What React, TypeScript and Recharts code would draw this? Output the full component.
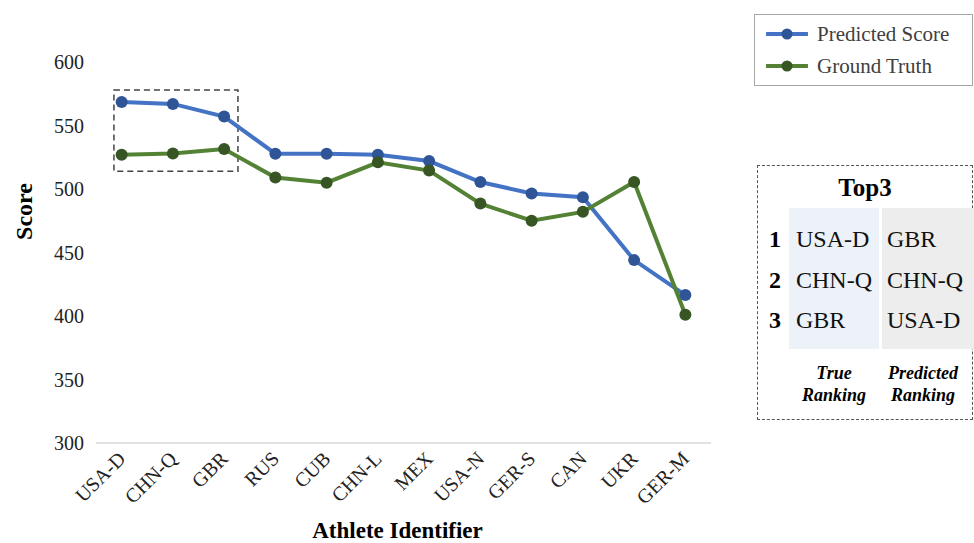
import React from "react";
import {
  LineChart,
  Line,
  XAxis,
  YAxis,
  ReferenceArea,
} from "recharts";

if (typeof document !== "undefined") document.body.style.margin = "0";

const ATHLETES = ["USA-D", "CHN-Q", "GBR", "RUS", "CUB", "CHN-L", "MEX", "USA-N", "GER-S", "CAN", "UKR", "GER-M"];
const PREDICTED = [568.5, 567, 557, 527.8, 527.8, 527, 522, 505.5, 496.5, 493.5, 444, 416.5];
const GROUND_TRUTH = [527, 528, 531.5, 509, 505, 521, 514.5, 488.5, 475, 482, 505.5, 401];
const Y_TICKS = [300, 350, 400, 450, 500, 550, 600];

// top-3 table shown to the right of the chart
const RANKS = [1, 2, 3];
const TRUE_TOP3 = ["USA-D", "CHN-Q", "GBR"];
const PRED_TOP3 = ["GBR", "CHN-Q", "USA-D"];

// dashed highlight box around the first three athletes (x in index units, y in score)
const HIGHLIGHT = { x1: -0.15, x2: 2.27, y1: 514, y2: 578 };

const FONT = '"Liberation Serif", "Times New Roman", serif';
const BLUE = "#4472C4";
const BLUE_DOT = "#2F5597";
const GREEN = "#548235";
const GREEN_DOT = "#375623";

const data = ATHLETES.map((name, i) => ({
  idx: i,
  name,
  predicted: PREDICTED[i],
  truth: GROUND_TRUTH[i],
}));

function XTick({ x, y, payload }: any) {
  return (
    <g transform={`translate(${x + 5},${y + 9})`}>
      <text
        x={0}
        y={0}
        textAnchor="end"
        transform="rotate(-45)"
        fontFamily={FONT}
        fontSize={20}
        fill="#222"
      >
        {ATHLETES[payload.value]}
      </text>
    </g>
  );
}

export default function App() {
  return (
    <div style={{ position: "relative", width: 974, height: 543, background: "#fff", fontFamily: FONT }}>
      <LineChart
        width={974}
        height={543}
        data={data}
        margin={{ top: 62, right: 263, left: 16, bottom: 0 }}
      >
        <XAxis
          type="number"
          dataKey="idx"
          domain={[-0.5, 11.5]}
          ticks={ATHLETES.map((_, i) => i)}
          tick={<XTick />}
          tickLine={false}
          axisLine={{ stroke: "#d9d9d9", strokeWidth: 1.5 }}
          height={100}
          interval={0}
          label={({ viewBox }: any) => (
            <text
              x={viewBox.x + viewBox.width / 2 - 6}
              y={viewBox.y + 95}
              textAnchor="middle"
              fontFamily={FONT}
              fontSize={23}
              fontWeight="bold"
              fill="#000"
            >
              Athlete Identifier
            </text>
          )}
        />
        <YAxis
          type="number"
          domain={[300, 600]}
          ticks={Y_TICKS}
          width={80}
          tickLine={false}
          axisLine={false}
          tickMargin={6}
          tick={{ fontFamily: FONT, fontSize: 20, fill: "#222" }}
          label={({ viewBox }: any) => {
            const cx = viewBox.x + 16;
            const cy = viewBox.y + viewBox.height / 2 - 41;
            return (
              <text
                x={cx}
                y={cy}
                textAnchor="middle"
                transform={`rotate(-90 ${cx} ${cy})`}
                fontFamily={FONT}
                fontSize={24}
                fontWeight="bold"
                fill="#000"
              >
                Score
              </text>
            );
          }}
        />
        <ReferenceArea
          x1={HIGHLIGHT.x1}
          x2={HIGHLIGHT.x2}
          y1={HIGHLIGHT.y1}
          y2={HIGHLIGHT.y2}
          fill="none"
          stroke="#444"
          strokeWidth={1.5}
          strokeDasharray="6 4"
          ifOverflow="visible"
        />
        <Line
          dataKey="predicted"
          stroke={BLUE}
          strokeWidth={4}
          dot={{ r: 6, fill: BLUE_DOT, stroke: "none" }}
          isAnimationActive={false}
        />
        <Line
          dataKey="truth"
          stroke={GREEN}
          strokeWidth={4}
          dot={{ r: 6, fill: GREEN_DOT, stroke: "none" }}
          isAnimationActive={false}
        />
      </LineChart>

      {/* legend */}
      <div
        style={{
          position: "absolute",
          left: 754,
          top: 14,
          width: 219,
          height: 72,
          border: "1px solid #a6a6a6",
          boxSizing: "border-box",
        }}
      >
        {[
          { label: "Predicted Score", line: BLUE, dot: BLUE_DOT },
          { label: "Ground Truth", line: GREEN, dot: GREEN_DOT },
        ].map((item, i) => (
          <div
            key={item.label}
            style={{
              position: "absolute",
              left: 11,
              top: 7 + i * 32,
              height: 24,
              display: "flex",
              alignItems: "center",
              fontSize: 21,
              color: "#404040",
              whiteSpace: "nowrap",
            }}
          >
            <svg width={42} height={12} style={{ marginRight: 9 }}>
              <line x1={1} y1={6} x2={41} y2={6} stroke={item.line} strokeWidth={4} strokeLinecap="round" />
              <circle cx={21} cy={6} r={5.5} fill={item.dot} />
            </svg>
            {item.label}
          </div>
        ))}
      </div>

      {/* top-3 table */}
      <div
        style={{
          position: "absolute",
          left: 757,
          top: 165,
          width: 216,
          height: 255,
          border: "1.5px dashed #555",
          boxSizing: "border-box",
        }}
      >
        <div
          style={{
            position: "absolute",
            left: 0,
            width: "100%",
            top: 10,
            textAlign: "center",
            fontWeight: "bold",
            fontSize: 25,
            lineHeight: "24px",
            color: "#000",
          }}
        >
          Top3
        </div>
        <div style={{ position: "absolute", left: 31, top: 42, width: 90, height: 141, background: "#EDF2F9" }} />
        <div style={{ position: "absolute", left: 124, top: 42, width: 92, height: 141, background: "#EDEDED" }} />
        {RANKS.map((r, i) => (
          <React.Fragment key={r}>
            <div
              style={{
                position: "absolute",
                left: 11,
                top: 61 + i * 40.5,
                fontWeight: "bold",
                fontSize: 24,
                lineHeight: "24px",
                color: "#000",
              }}
            >
              {r}
            </div>
            <div
              style={{
                position: "absolute",
                left: 38,
                top: 61 + i * 40.5,
                fontSize: 24,
                lineHeight: "24px",
                color: "#111",
              }}
            >
              {TRUE_TOP3[i]}
            </div>
            <div
              style={{
                position: "absolute",
                left: 129,
                top: 61 + i * 40.5,
                fontSize: 24,
                lineHeight: "24px",
                color: "#111",
              }}
            >
              {PRED_TOP3[i]}
            </div>
          </React.Fragment>
        ))}
        {[
          { label: ["True", "Ranking"], cx: 76 },
          { label: ["Predicted", "Ranking"], cx: 165 },
        ].map((h) => (
          <div
            key={h.label[0]}
            style={{
              position: "absolute",
              left: h.cx - 50,
              width: 100,
              top: 196,
              textAlign: "center",
              fontStyle: "italic",
              fontWeight: "bold",
              fontSize: 18,
              lineHeight: "22px",
              color: "#000",
            }}
          >
            {h.label[0]}
            <br />
            {h.label[1]}
          </div>
        ))}
      </div>
    </div>
  );
}
